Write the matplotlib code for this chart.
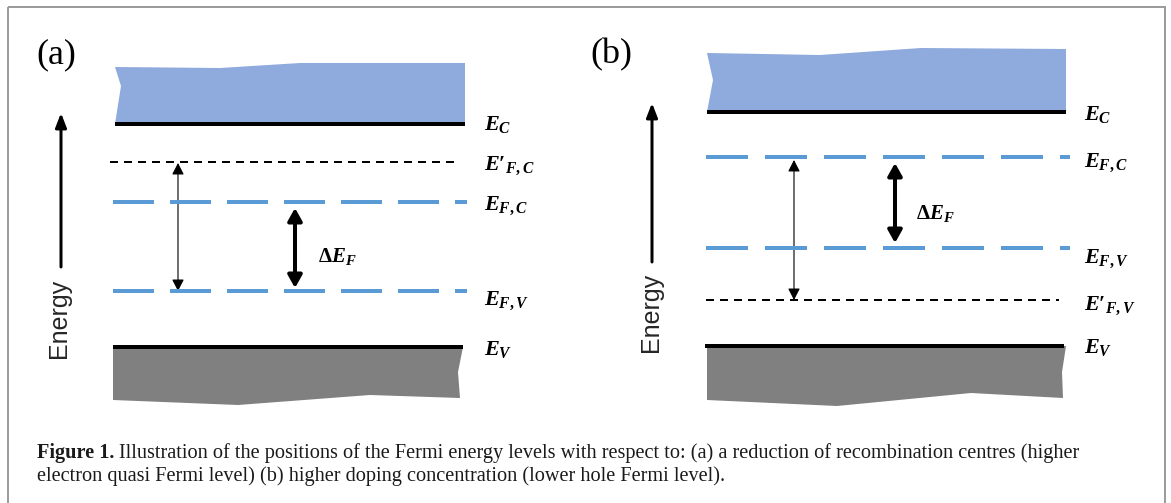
import matplotlib
matplotlib.use('Agg')
import matplotlib.pyplot as plt
from matplotlib.patches import Polygon, FancyArrowPatch, Rectangle, ArrowStyle

plt.rcParams['mathtext.fontset'] = 'custom'
plt.rcParams['mathtext.rm'] = 'Liberation Serif:bold'
plt.rcParams['mathtext.it'] = 'Liberation Serif:bold:italic'
plt.rcParams['mathtext.bf'] = 'Liberation Serif:bold'
plt.rcParams['lines.scale_dashes'] = False

# ---------------- data (schematic positions, pixel units of the figure) -------------
panel_tags = ['(a)', '(b)']
band_left = [115, 707]
band_right = [465, 1066]
level_EC = [124, 112]
level_EFC = [202, 157]
level_EFV = [291, 248]
level_EV = [347, 346]
level_Eprime = [162, 300]
prime_labels = ["$E\u2032{}_{F,C}$", "$E\u2032{}_{F,V}$"]

# conduction band (blue) outline per panel
cb_x_a = [115, 220, 300, 465, 465, 115, 121]
cb_y_a = [67, 68, 63, 63, 124, 124, 86]
cb_x_b = [707, 820, 921, 1066, 1066, 707, 713]
cb_y_b = [53, 55, 48, 49, 112, 112, 80]
# valence band (grey) outline per panel
vb_x_a = [113, 463, 458, 460, 370, 238, 113]
vb_y_a = [347, 347, 372, 398, 395, 405, 400]
vb_x_b = [707, 1066, 1062, 1063, 971, 837, 707]
vb_y_b = [346, 346, 372, 398, 393, 406, 400]

# arrows
energy_x = [61, 652]
energy_y0 = [267, 262]
energy_y1 = [113, 103]
thin_x = [178, 794]
thin_y0 = [163, 160]
thin_y1 = [291, 300]
thick_x = [295, 895]
thick_y0 = [208, 163]
thick_y1 = [288, 243]

caption1 = ("Illustration of the positions of the Fermi energy levels with respect to: (a) a reduction "
            "of recombination centres (higher")
caption2 = "electron quasi Fermi level) (b) higher doping concentration (lower hole Fermi level)."

# ---------------- figure -------------
W, H = 1171, 503
fig = plt.figure(figsize=(W / 100, H / 100), dpi=100)
ax = fig.add_axes([0, 0, 1, 1])
ax.set_xlim(0, W)
ax.set_ylim(H, 0)
ax.axis('off')
PX = 0.72

BLUE_FILL = '#8FAADC'
BLUE_DASH = '#5B9BD5'
GREY = '#808080'

# frame
ax.add_patch(Rectangle((8, 7), 1157, 600, fill=False, edgecolor='#9a9a9a', lw=1.4))

cb_shapes = [(cb_x_a, cb_y_a), (cb_x_b, cb_y_b)]
vb_shapes = [(vb_x_a, vb_y_a), (vb_x_b, vb_y_b)]
tag_pos = [(56, 55), (611, 55)]
label_x = [484, 1084]
label_base = [[130, 170, 210, 305, 355], [120, 310, 167, 263, 353]]
blue_period = [(41, 16), (42, 17)]
blue_ends = [(113, 467), (706, 1070)]
prime_ends = [(110, 455), (706, 1059)]
energy_text = [(59, 318), (651, 312)]
dE_pos = [(318, 262), (916, 219)]

for i in range(2):
    cx, cy = cb_shapes[i]
    ax.add_patch(Polygon(list(zip(cx, cy)), closed=True, facecolor=BLUE_FILL, edgecolor='none'))
    vx, vy = vb_shapes[i]
    ax.add_patch(Polygon(list(zip(vx, vy)), closed=True, facecolor=GREY, edgecolor='none'))

    # band edges
    ax.plot([band_left[i], band_right[i]], [level_EC[i], level_EC[i]], color='black', lw=4 * PX,
            solid_capstyle='butt')
    ax.plot([band_left[i] - 2, band_right[i] - 2], [level_EV[i], level_EV[i]], color='black', lw=4 * PX,
            solid_capstyle='butt')

    # quasi Fermi levels (blue dashed)
    x0, x1 = blue_ends[i]
    on, off = blue_period[i]
    for lev in (level_EFC[i], level_EFV[i]):
        ax.plot([x0, x1], [lev, lev], color=BLUE_DASH, lw=4 * PX, dashes=(on * PX, off * PX),
                dash_capstyle='butt')

    # shifted level (black dashed)
    p0, p1 = prime_ends[i]
    ax.plot([p0, p1], [level_Eprime[i], level_Eprime[i]], color='black', lw=2 * PX,
            dashes=(8 * PX, 6 * PX), dash_capstyle='butt')

    # labels
    lb = label_base[i]
    ax.text(label_x[i], lb[0], r'$E_{C}$', fontsize=16, va='baseline', ha='left')
    ax.text(label_x[i], lb[1], prime_labels[i], fontsize=16, va='baseline', ha='left')
    ax.text(label_x[i], lb[2], r'$E_{F,C}$', fontsize=16, va='baseline', ha='left')
    ax.text(label_x[i], lb[3], r'$E_{F,V}$', fontsize=16, va='baseline', ha='left')
    ax.text(label_x[i], lb[4], r'$E_{V}$', fontsize=16, va='baseline', ha='left')

    # panel tag
    ax.text(tag_pos[i][0], tag_pos[i][1], panel_tags[i], fontsize=26, family='Liberation Serif',
            ha='center', va='center')

    # Energy axis arrow
    ax.add_patch(FancyArrowPatch((energy_x[i], energy_y0[i]), (energy_x[i], energy_y1[i]),
                                 arrowstyle=ArrowStyle('-|>', head_length=8.5, head_width=3.3),
                                 mutation_scale=1, lw=3 * PX, color='black', shrinkA=0, shrinkB=0))
    ax.text(energy_text[i][0], energy_text[i][1], 'Energy', rotation=90, fontsize=18,
            family='Liberation Sans', ha='center', va='center', color='#262626')

    # thin double arrow
    ax.add_patch(FancyArrowPatch((thin_x[i], thin_y0[i]), (thin_x[i], thin_y1[i]),
                                 arrowstyle=ArrowStyle('<|-|>', head_length=7, head_width=3.6),
                                 mutation_scale=1, lw=0.8, color='black', shrinkA=0, shrinkB=0))
    # thick double arrow
    ax.add_patch(FancyArrowPatch((thick_x[i], thick_y0[i]), (thick_x[i], thick_y1[i]),
                                 arrowstyle=ArrowStyle('<|-|>', head_length=7.5, head_width=4.2),
                                 mutation_scale=1, lw=4 * PX, color='black', shrinkA=0, shrinkB=0))
    ax.text(dE_pos[i][0], dE_pos[i][1], r'$\Delta E_{F}$', fontsize=15, va='baseline', ha='left')

# caption
cfs = 14.6
cap_x, cap_y1, cap_y2 = 37, 458, 481
t1 = ax.text(cap_x, cap_y1, 'Figure 1.', fontweight='bold', family='Liberation Serif', fontsize=cfs,
             va='baseline', ha='left', color='#1a1a1a')
fig.canvas.draw()
bb = t1.get_window_extent()
x_end = ax.transData.inverted().transform((bb.x1, bb.y0))[0]
ax.text(x_end + 5, cap_y1, caption1, family='Liberation Serif', fontsize=cfs, va='baseline', ha='left',
        color='#1a1a1a')
ax.text(cap_x, cap_y2, caption2, family='Liberation Serif', fontsize=cfs, va='baseline', ha='left',
        color='#1a1a1a')

fig.savefig('out.png', dpi=100)
